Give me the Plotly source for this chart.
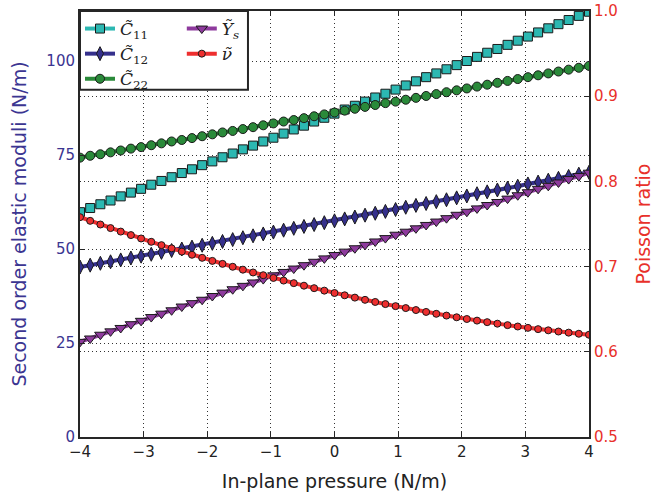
import plotly.graph_objects as go

# In-plane pressure (N/m)
pressure = [-4.00, -3.84, -3.68, -3.52, -3.36, -3.20, -3.04, -2.88, -2.72, -2.56,
            -2.40, -2.24, -2.08, -1.92, -1.76, -1.60, -1.44, -1.28, -1.12, -0.96,
            -0.80, -0.64, -0.48, -0.32, -0.16, 0.00, 0.16, 0.32, 0.48, 0.64,
            0.80, 0.96, 1.12, 1.28, 1.44, 1.60, 1.76, 1.92, 2.08, 2.24,
            2.40, 2.56, 2.72, 2.88, 3.04, 3.20, 3.36, 3.52, 3.68, 3.84, 4.00]

C11 = [59.8, 60.9, 61.9, 62.9, 64.0, 65.0, 66.0, 67.1, 68.1, 69.1,
       70.2, 71.2, 72.3, 73.3, 74.4, 75.4, 76.5, 77.5, 78.6, 79.6,
       80.7, 81.8, 82.8, 83.9, 84.9, 86.0, 87.1, 88.1, 89.2, 90.3,
       91.3, 92.4, 93.5, 94.6, 95.7, 96.7, 97.8, 98.9, 100.0, 101.1,
       102.2, 103.2, 104.3, 105.4, 106.5, 107.6, 108.7, 109.8, 110.9, 112.0, 113.1]

C12 = [45.2, 45.7, 46.2, 46.6, 47.1, 47.6, 48.1, 48.6, 49.1, 49.6,
       50.0, 50.5, 51.0, 51.5, 52.0, 52.5, 53.0, 53.5, 54.0, 54.5,
       55.0, 55.5, 56.0, 56.5, 57.0, 57.5, 58.0, 58.5, 59.0, 59.5,
       60.0, 60.5, 61.1, 61.6, 62.1, 62.6, 63.1, 63.6, 64.1, 64.7,
       65.2, 65.7, 66.2, 66.7, 67.3, 67.8, 68.3, 68.8, 69.3, 69.9, 70.4]

C22 = [74.3, 74.8, 75.2, 75.7, 76.2, 76.7, 77.1, 77.6, 78.1, 78.6,
       79.0, 79.5, 80.0, 80.5, 81.0, 81.4, 81.9, 82.4, 82.9, 83.4,
       83.9, 84.3, 84.8, 85.3, 85.8, 86.3, 86.8, 87.3, 87.8, 88.3,
       88.8, 89.2, 89.7, 90.2, 90.7, 91.2, 91.7, 92.2, 92.7, 93.2,
       93.7, 94.2, 94.7, 95.2, 95.7, 96.2, 96.7, 97.2, 97.7, 98.2, 98.7]

Ys = [25.3, 26.2, 27.2, 28.1, 29.0, 30.0, 30.9, 31.9, 32.8, 33.7,
      34.7, 35.6, 36.5, 37.5, 38.4, 39.3, 40.2, 41.1, 42.0, 43.0,
      43.9, 44.8, 45.7, 46.6, 47.5, 48.4, 49.3, 50.2, 51.1, 52.0,
      52.9, 53.8, 54.6, 55.5, 56.4, 57.3, 58.2, 59.1, 59.9, 60.8,
      61.7, 62.5, 63.4, 64.3, 65.1, 66.0, 66.8, 67.7, 68.6, 69.4, 70.3]

nu = [0.7580, 0.7537, 0.7494, 0.7452, 0.7411, 0.7370, 0.7330, 0.7291, 0.7252, 0.7214,
      0.7176, 0.7139, 0.7103, 0.7067, 0.7032, 0.6998, 0.6964, 0.6931, 0.6899, 0.6867,
      0.6836, 0.6806, 0.6776, 0.6747, 0.6718, 0.6690, 0.6663, 0.6636, 0.6610, 0.6585,
      0.6560, 0.6536, 0.6513, 0.6490, 0.6468, 0.6446, 0.6425, 0.6405, 0.6385, 0.6366,
      0.6348, 0.6330, 0.6313, 0.6297, 0.6281, 0.6266, 0.6252, 0.6238, 0.6225, 0.6212, 0.6200]

x_ticks = [-4, -3, -2, -1, 0, 1, 2, 3, 4]
left_ticks = [0, 25, 50, 75, 100]
right_ticks = [0.5, 0.6, 0.7, 0.8, 0.9, 1.0]

BLUE_TXT = "#3b3591"
RED_TXT = "#e8302a"
EDGE = dict(color="#1a1a1a", width=1)

fig = go.Figure()

def add(name, y, color, symbol, size, legend, yaxis="y"):
    fig.add_trace(go.Scatter(
        x=pressure, y=y, name=name, mode="lines+markers", yaxis=yaxis,
        line=dict(color=color, width=4),
        marker=dict(symbol=symbol, size=size, color=color, line=EDGE),
        legend=legend, cliponaxis=True,
    ))

add("<i>C\u0303</i><sub>11</sub>", C11, "#2cb8b2", "square", 9, "legend")
add("<i>C\u0303</i><sub>12</sub>", C12, "#35308c", "diamond-tall", 10, "legend")
add("<i>C\u0303</i><sub>22</sub>", C22, "#2a8a3a", "circle", 9, "legend")
add("<i>Y\u0303<sub>s</sub></i>", Ys, "#8e3a9d", "triangle-down", 10, "legend2")
add("<i>\u03bd\u0303</i>", nu, "#ee2f2f", "circle", 7, "legend2", yaxis="y2")

axis_line = dict(showline=True, linecolor="#262626", linewidth=2, automargin=False)
grid = dict(showgrid=True, gridcolor="#333333", gridwidth=1, griddash="1px,3px")

fig.update_layout(
    width=654, height=496,
    margin=dict(l=80, r=65, t=11, b=59, autoexpand=False),
    paper_bgcolor="white", plot_bgcolor="white",
    font=dict(family="DejaVu Sans", size=15, color="#222222"),
    showlegend=True,
    xaxis=dict(range=[-4, 4], tickvals=x_ticks, ticks="inside", ticklen=5,
               tickcolor="#262626", mirror="ticks", zeroline=False,
               tickfont=dict(size=15, color="#222222"),
               title=dict(text="In-plane pressure (N/m)", font=dict(size=19, color="#222222"), standoff=15),
               **axis_line, **grid),
    yaxis=dict(range=[0, 113.3], tickvals=left_ticks, ticks="inside", ticklen=5,
               tickcolor="#262626", zeroline=False,
               tickfont=dict(size=15, color=BLUE_TXT),
               title=dict(text="Second order elastic moduli (N/m)", font=dict(size=19, color=BLUE_TXT), standoff=15),
               **axis_line, **grid),
    yaxis2=dict(range=[0.5, 1.0], tickvals=right_ticks, tickformat=".1f", overlaying="y", side="right",
                ticks="inside", ticklen=5, tickcolor="#262626", zeroline=False,
                tickfont=dict(size=15, color=RED_TXT), ticklabeloverflow="allow",
                title=dict(text="Poisson ratio", font=dict(size=19, color=RED_TXT), standoff=24),
                **axis_line, **grid),
    legend=dict(x=0.0, y=1.0, xanchor="left", yanchor="top", bgcolor="rgba(0,0,0,0)",
                font=dict(family="DejaVu Serif", size=17, color="#222222"),
                itemwidth=30, tracegroupgap=0),
    legend2=dict(x=0.2, y=1.0, xanchor="left", yanchor="top", bgcolor="rgba(0,0,0,0)",
                 font=dict(family="DejaVu Serif", size=17, color="#222222"),
                 itemwidth=30, tracegroupgap=0),
    shapes=[dict(type="rect", xref="paper", yref="paper", x0=0.0, x1=0.33, y0=0.815, y1=1.0,
                 fillcolor="white", line=dict(color="#262626", width=2), layer="above")],
)

# remove the browser's default 8px page margin so the figure fills the window exactly
fig.write_html("out.html", config={"displayModeBar": False},
               post_script="document.body.style.margin='0';")
